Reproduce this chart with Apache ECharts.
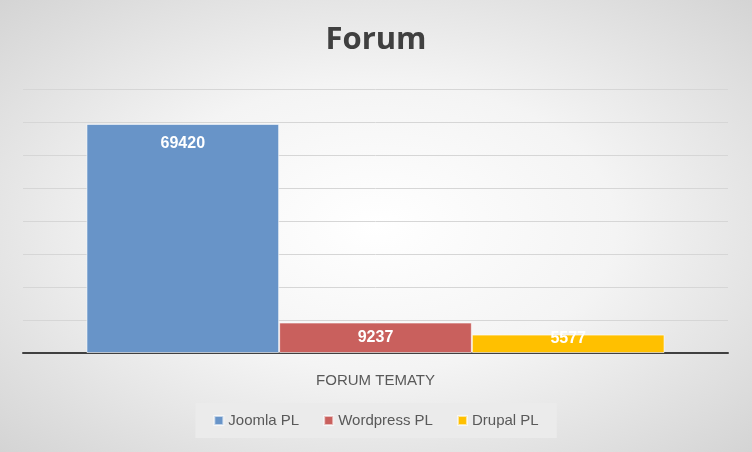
<!DOCTYPE html>
<html><head><meta charset="utf-8">
<script src="https://cdn.jsdelivr.net/npm/echarts@6/dist/echarts.min.js"></script>
<style>html,body{margin:0;padding:0}#c{width:752px;height:452px;background:radial-gradient(ellipse at center,#ffffff 0%,#f4f4f4 45%,#d4d4d4 100%)}</style>
</head><body><div id="c"></div>
<script>
const categories = ['FORUM TEMATY'];
const seriesNames = ['Joomla PL', 'Wordpress PL', 'Drupal PL'];
const joomla = [69420];
const wordpress = [9237];
const drupal = [5577];
const colors = ['#6894c8', '#c9605d', '#ffc000'];
const values = [joomla, wordpress, drupal];
const labelDist = [12, 7, -4];
const chart = echarts.init(document.getElementById('c'));
chart.setOption({
  animation: false,
  title: {text: 'Forum', left: 'center', top: 20, textStyle: {fontFamily: 'Open Sans', fontSize: 31, fontWeight: 'bold', color: '#404040'}},
  legend: {bottom: 14, itemWidth: 9, itemHeight: 9, itemGap: 24, backgroundColor: '#ebebeb', padding: [10, 18], icon: 'rect',
    textStyle: {fontFamily: 'Liberation Sans', fontSize: 15, color: '#595959'}},
  grid: {left: 23, right: 24, top: 89, bottom: 99},
  xAxis: {type: 'category', data: categories, axisTick: {show: false},
    axisLine: {lineStyle: {color: '#404040', width: 2}},
    axisLabel: {margin: 20, fontFamily: 'Liberation Sans', fontSize: 15, color: '#595959'}},
  yAxis: {type: 'value', min: 0, max: 80000, interval: 10000, axisLabel: {show: false},
    splitLine: {lineStyle: {color: '#d6d6d6', width: 1}}},
  series: seriesNames.map((n, i) => ({
    name: n, type: 'bar', data: values[i], barGap: '0%', barCategoryGap: '18%',
    itemStyle: {color: colors[i], borderColor: 'rgba(255,255,255,0.6)', borderWidth: 1},
    label: {show: true, position: 'insideTop', distance: labelDist[i], color: '#fff', fontFamily: 'Liberation Sans', fontSize: 16, fontWeight: 'bold'}
  }))
});
</script></body></html>
